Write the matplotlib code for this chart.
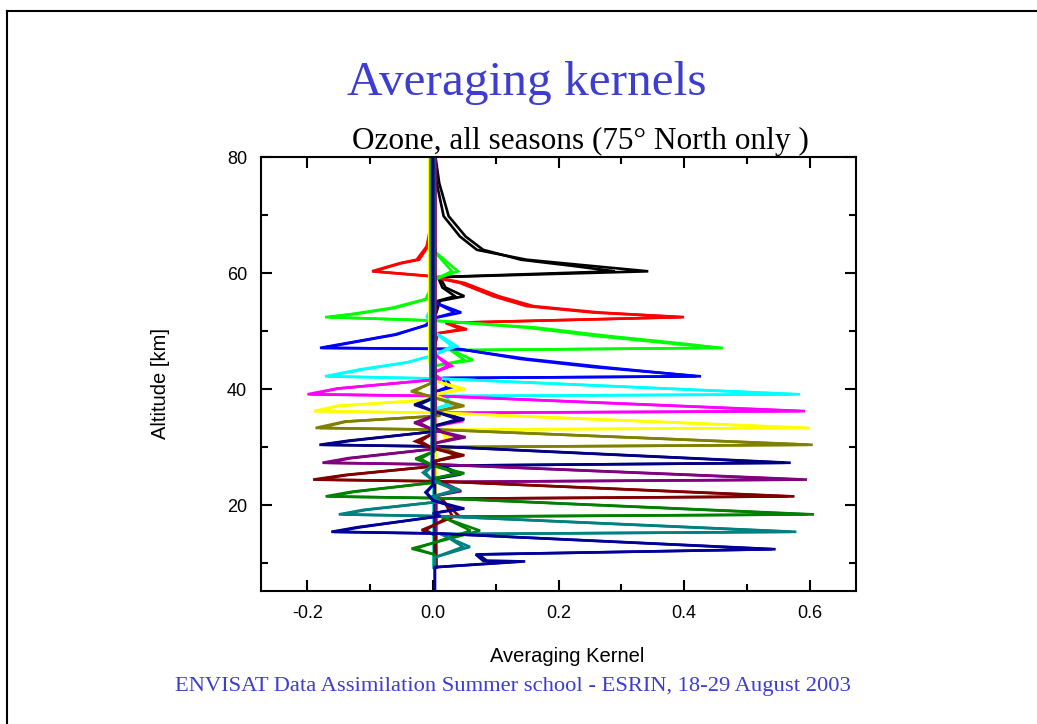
import matplotlib
matplotlib.use('Agg')
import matplotlib.pyplot as plt
from matplotlib.lines import Line2D
from matplotlib.ticker import MultipleLocator

# kernel colours, top (60 km) to bottom (12 km)
kernel_colors = ['black', '#ff0000', '#00ff00', '#0000ff', '#00ffff', '#ff00ff', '#ffff00',
                 '#808000', '#000080', '#800080', '#800000', '#008000', '#008080', '#000099']

# altitude vertices [km] of each kernel
kernel_alts = [
    [80, 75.5, 69.8, 66.3, 64.0, 62.3, 61.2, 60.3, 59.3, 57.5, 56.0, 55.2, 52.0, 9.3],
    [80, 68.0, 64.6, 62.3, 61.7, 60.3, 59.5, 58.3, 56.0, 54.3, 53.2, 52.4, 51.4, 50.3, 49.6, 47.5, 9.3],
    [80, 64.5, 63.5, 60.3, 59.0, 55.5, 54.0, 53.0, 52.4, 51.8, 50.6, 49.2, 47.7, 47.1, 46.7, 45.0, 44.0, 9.3],
    [80, 55.0, 53.2, 52.2, 51.0, 49.4, 47.1, 46.9, 45.2, 43.8, 42.2, 41.9, 40.3, 39.5, 9.3],
    [80, 54.0, 52.5, 50.0, 47.4, 45.8, 44.6, 43.4, 42.2, 41.8, 39.1, 38.8, 37.3, 36.5, 9.3],
    [80, 46.0, 44.0, 42.8, 41.7, 40.1, 39.1, 38.8, 36.2, 35.9, 34.5, 33.6, 9.3],
    [80, 45.0, 41.5, 40.0, 39.0, 38.3, 37.1, 36.2, 35.9, 33.3, 33.0, 31.5, 30.6, 9.3],
    [80, 41.0, 39.6, 38.6, 37.1, 36.0, 35.4, 34.4, 33.3, 33.0, 30.4, 30.0, 28.5, 27.6, 9.3],
    [80, 38.5, 37.3, 36.2, 34.8, 33.6, 32.8, 31.1, 30.4, 30.1, 27.3, 26.8, 25.3, 24.5, 9.3],
    [80, 35.5, 34.2, 33.0, 31.7, 30.6, 29.8, 28.1, 27.3, 27.0, 24.4, 24.0, 22.4, 21.6, 9.3],
    [80, 32.3, 31.0, 29.8, 28.6, 27.5, 26.8, 25.2, 24.4, 24.1, 21.5, 21.1, 18.3, 15.7, 14.8, 9.3],
    [80, 29.3, 28.0, 26.8, 25.5, 24.6, 24.0, 22.3, 21.5, 21.2, 18.4, 18.0, 15.6, 12.5, 11.5, 9.3],
    [80, 26.8, 25.6, 24.2, 22.6, 21.5, 20.6, 19.2, 18.4, 18.1, 15.4, 15.0, 12.8, 11.0, 9.3],
    [80, 23.5, 22.2, 20.8, 19.4, 18.6, 18.1, 16.2, 15.4, 15.1, 12.4, 11.5, 10.4, 10.3, 9.3, 5.2],
]

# averaging kernel values, first season set
kernel_vals_a = [
    [0.003, 0.006, 0.017, 0.043, 0.070, 0.149, 0.255, 0.343, 0.011, 0.020, 0.050, 0.011, 0.002, 0.002],
    [-0.002, -0.004, -0.010, -0.026, -0.053, -0.097, -0.010, 0.043, 0.096, 0.149, 0.255, 0.400, 0.022, 0.054, 0.008, 0.003, 0.004],
    [0.003, 0.003, 0.005, 0.040, 0.005, -0.010, -0.060, -0.120, -0.172, 0.000, 0.149, 0.255, 0.394, 0.462, 0.030, 0.064, 0.002, 0.001],
    [0.001, 0.001, 0.045, 0.0, -0.010, -0.061, -0.180, 0.043, 0.139, 0.255, 0.427, 0.020, 0.030, 0.002, 0.002],
    [-0.003, -0.003, -0.010, 0.0, 0.038, 0.0, -0.042, -0.116, -0.172, 0.010, 0.585, 0.020, 0.030, 0.001, 0.001],
    [0.002, 0.002, 0.030, 0.0, 0.013, -0.153, -0.200, 0.013, 0.593, 0.020, 0.040, 0.003, 0.003],
    [-0.006, -0.006, 0.0, 0.043, 0.0, 0.018, -0.153, -0.190, 0.012, 0.600, 0.015, 0.030, 0.004, 0.004],
    [-0.004, -0.004, -0.030, 0.0, 0.050, 0.0, 0.012, -0.141, -0.187, 0.012, 0.605, 0.012, 0.035, 0.002, 0.002],
    [0.001, 0.001, -0.030, 0.0, 0.050, 0.0, 0.012, -0.135, -0.181, 0.012, 0.570, 0.012, 0.035, 0.003, 0.003],
    [0.003, 0.003, -0.030, 0.0, 0.052, 0.0, 0.012, -0.135, -0.176, 0.012, 0.596, 0.012, 0.035, 0.005, 0.005],
    [-0.001, -0.001, -0.028, 0.0, 0.050, 0.0, 0.012, -0.140, -0.191, 0.012, 0.576, 0.012, 0.040, -0.018, 0.004, 0.005],
    [0.002, 0.002, -0.028, 0.0, 0.050, 0.0, 0.012, -0.130, -0.171, 0.012, 0.607, 0.012, 0.075, -0.034, 0.002, 0.002],
    [-0.002, -0.002, -0.016, 0.0, 0.043, 0.0, 0.012, -0.110, -0.150, 0.012, 0.579, 0.012, 0.059, 0.003, 0.003],
    [0.0, 0.0, -0.012, 0.0, 0.050, 0.0, 0.012, -0.120, -0.162, 0.012, 0.546, 0.073, 0.086, 0.147, 0.003, 0.003],
]

# averaging kernel values, second season set
kernel_vals_b = [
    [0.004, 0.010, 0.025, 0.052, 0.080, 0.140, 0.225, 0.290, 0.008, 0.015, 0.035, 0.008, 0.002, 0.002],
    [-0.002, -0.003, -0.008, -0.022, -0.050, -0.095, -0.006, 0.050, 0.105, 0.160, 0.265, 0.395, 0.020, 0.045, 0.006, 0.003, 0.004],
    [0.002, 0.002, 0.004, 0.030, 0.004, -0.012, -0.065, -0.125, -0.165, 0.005, 0.165, 0.275, 0.410, 0.455, 0.028, 0.050, 0.002, 0.001],
    [0.002, 0.002, 0.035, 0.0, -0.012, -0.058, -0.176, 0.040, 0.150, 0.270, 0.420, 0.015, 0.022, 0.002, 0.002],
    [-0.002, -0.002, -0.008, 0.0, 0.030, 0.0, -0.040, -0.110, -0.168, 0.012, 0.575, 0.015, 0.022, 0.001, 0.001],
    [0.003, 0.003, 0.024, 0.0, 0.010, -0.150, -0.195, 0.010, 0.585, 0.025, 0.048, 0.003, 0.003],
    [-0.005, -0.005, 0.0, 0.052, 0.0, 0.015, -0.150, -0.185, 0.010, 0.590, 0.012, 0.022, 0.004, 0.004],
    [-0.003, -0.003, -0.035, 0.0, 0.042, 0.0, 0.010, -0.138, -0.180, 0.010, 0.598, 0.015, 0.045, 0.002, 0.002],
    [0.002, 0.002, -0.022, 0.0, 0.040, 0.0, 0.010, -0.130, -0.176, 0.010, 0.560, 0.015, 0.045, 0.003, 0.003],
    [0.004, 0.004, -0.022, 0.0, 0.042, 0.0, 0.010, -0.130, -0.170, 0.010, 0.585, 0.015, 0.045, 0.005, 0.005],
    [-0.001, -0.001, -0.020, 0.0, 0.040, 0.0, 0.010, -0.135, -0.185, 0.010, 0.566, 0.015, 0.030, -0.012, 0.004, 0.005],
    [0.002, 0.002, -0.020, 0.0, 0.040, 0.0, 0.010, -0.125, -0.165, 0.010, 0.597, 0.015, 0.060, -0.028, 0.002, 0.002],
    [-0.001, -0.001, -0.012, 0.0, 0.035, 0.0, 0.010, -0.105, -0.145, 0.010, 0.570, 0.015, 0.048, 0.003, 0.003],
    [0.0, 0.0, -0.010, 0.0, 0.042, 0.0, 0.010, -0.115, -0.158, 0.010, 0.540, 0.068, 0.080, 0.140, 0.003, 0.003],
]

title = 'Averaging kernels'
subtitle = 'Ozone, all seasons (75° North only )'
footer = 'ENVISAT Data Assimilation Summer school - ESRIN, 18-29 August 2003'

plt.rcParams['font.family'] = ['Liberation Sans', 'DejaVu Sans']
plt.rcParams['axes.unicode_minus'] = False
serif = ['Liberation Serif', 'DejaVu Serif']
W, H = 1037, 724

fig = plt.figure(figsize=(W / 100, H / 100), dpi=100)
ax = fig.add_axes([261 / W, 1 - 591 / H, (856 - 261) / W, (591 - 157) / H])

for alts, va, vb, c in zip(kernel_alts, kernel_vals_a, kernel_vals_b, kernel_colors):
    ax.plot(vb, alts, color=c, lw=1.9, solid_joinstyle='miter')
    ax.plot(va, alts, color=c, lw=1.9, solid_joinstyle='miter')

ax.set_xlim(-0.274, 0.674)
ax.set_ylim(5.2, 80)
ax.xaxis.set_major_locator(MultipleLocator(0.2))
ax.xaxis.set_minor_locator(MultipleLocator(0.1))
ax.yaxis.set_major_locator(MultipleLocator(20))
ax.yaxis.set_minor_locator(MultipleLocator(10))
ax.xaxis.set_major_formatter(plt.FuncFormatter(lambda v, p: f'{v:.1f}'))
ax.tick_params(which='both', direction='in', top=True, right=True, width=1.5, labelsize=13, pad=10)
ax.tick_params(which='major', length=8)
ax.tick_params(which='minor', length=5)
for s in ax.spines.values():
    s.set_linewidth(1.5)

ax.set_xlabel('Averaging Kernel', fontsize=14.5)
ax.xaxis.set_label_coords((567 - 261) / 595, -(656 - 591) / 434)
ax.xaxis.label.set_va('center')
ax.set_ylabel('Altitude [km]', fontsize=14.5)
ax.yaxis.set_label_coords(-(261 - 160) / 595, (591 - 383) / 434)
ax.yaxis.label.set_va('center')

fig.text(527 / W, 1 - 95 / H, title, ha='center', va='baseline', color='#3d3dcf',
         fontsize=35.5, family=serif)
fig.text(580 / W, 1 - 149 / H, subtitle, ha='center', va='baseline', color='black',
         fontsize=22.5, family=serif)
fig.text(513 / W, 1 - 691 / H, footer, ha='center', va='baseline', color='#3d3dcf',
         fontsize=16.2, family=serif)

# slide frame
fig.add_artist(Line2D([7 / W, 1], [1 - 11 / H, 1 - 11 / H], transform=fig.transFigure, color='black', lw=1.5))
fig.add_artist(Line2D([7 / W, 7 / W], [0, 1 - 11 / H], transform=fig.transFigure, color='black', lw=1.5))

fig.savefig('out.png', dpi=100)
